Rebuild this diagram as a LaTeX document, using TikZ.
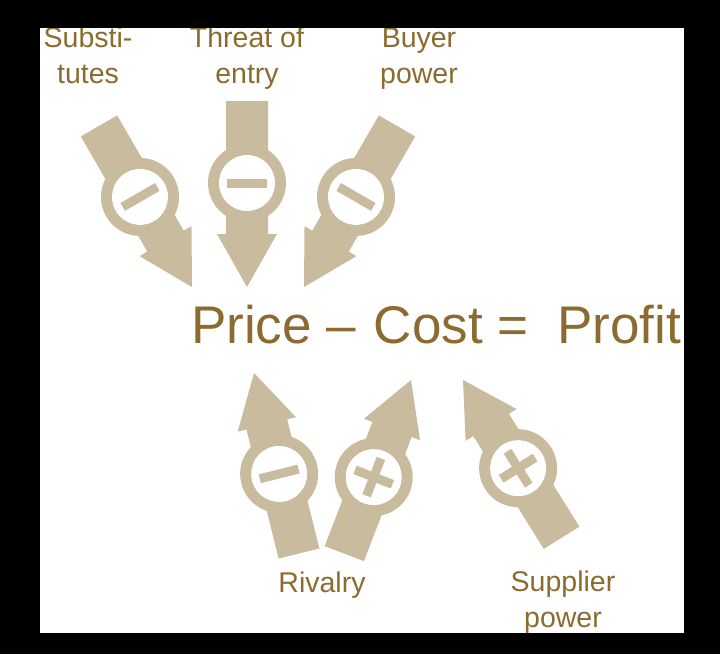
\documentclass[tikz,border=0pt]{standalone}
\usepackage{fontspec}
\setmainfont{Liberation Sans}
\usetikzlibrary{positioning}
\definecolor{tancolor}{RGB}{200,187,158}
\definecolor{goldcolor}{RGB}{139,107,47}
\tikzset{
  lbl/.style   = {text=goldcolor, align=center, inner sep=0pt,
                  font=\fontsize{28.5}{35.5}\selectfont},
  eqn/.style   = {text=goldcolor, inner sep=0pt,
                  font=\fontsize{53}{60}\selectfont},
  pics/force/.style = {code={
    \fill[tancolor] (0,0) -- (30,-53) -- (21,-53) -- (21,-186)
                    -- (-21,-186) -- (-21,-53) -- (-30,-53) -- cycle;
    \fill[tancolor] (0,-104) circle[radius=39];
    \fill[white] (0,-104) circle[radius=28];
    \fill[tancolor] (-20,-108.5) rectangle (20,-99.5);
    \ifnum#1>0 \fill[tancolor] (-4.5,-124) rectangle (4.5,-84); \fi
  }},
}

\begin{document}
\begin{tikzpicture}[x=1pt, y=-1pt]
  \fill[black] (0,0) rectangle (720,654);
  \begin{scope}
    \clip (40,28) rectangle (684,633);
    \fill[white] (40,28) rectangle (684,633);
    % five forces, tip x/y, turn, sign (0 minus, 1 plus)
    \foreach \tx/\ty/\rot/\sgn in {192/287/30/0, 247/287/0/0, 304/287/-30/0,
                                   254/373/194/0, 411/380/159/1, 463/380/212/1} {
      \pic[rotate=\rot] at (\tx,\ty) {force=\sgn};
    }
    \node[eqn, anchor=base west] (profit) at (191,343)
      {Price –\hspace{3pt} Cost = \hspace{14pt}Profit};
    \node[lbl, anchor=base] (subst) at (88,83) {Substi-\\tutes};
    \node[lbl, anchor=base] (entry) at (247,83) {Threat of\\entry};
    \node[lbl, anchor=base] (buyer) at (419,83) {Buyer\\power};
    \node[lbl, anchor=base] (rivalry) at (322,592) {Rivalry};
    \node[lbl, anchor=base] (supplier) at (563,627) {Supplier\\power};
  \end{scope}
\end{tikzpicture}
\end{document}
